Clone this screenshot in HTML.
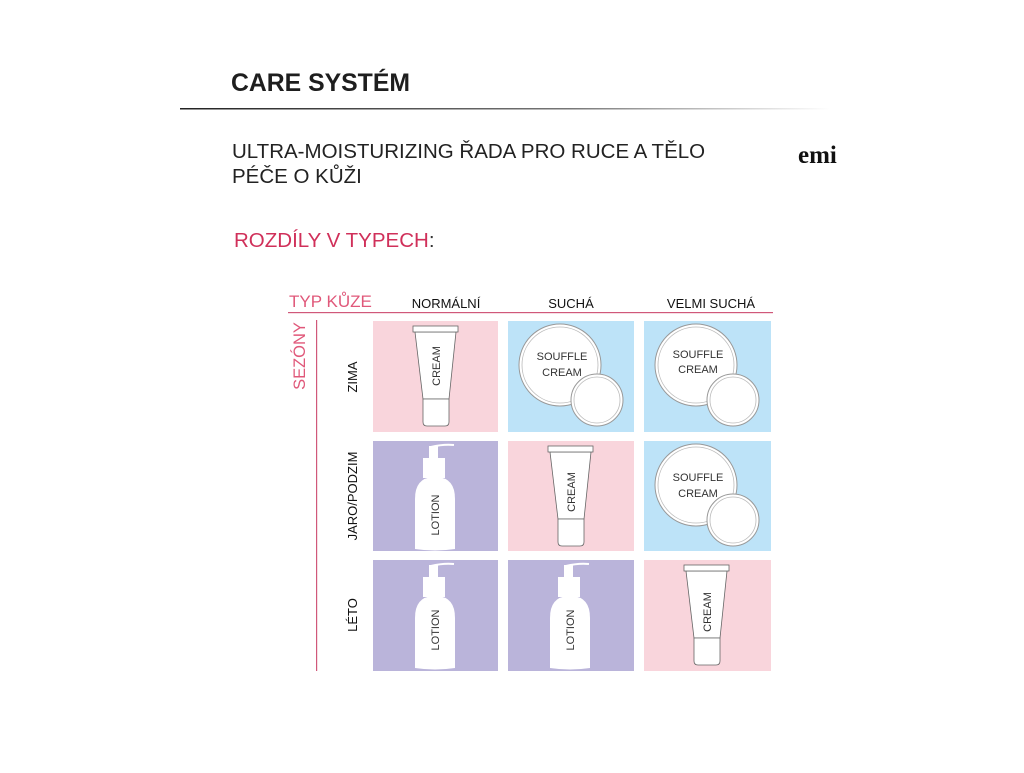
<!DOCTYPE html>
<html><head><meta charset="utf-8"><style>html,body{margin:0;padding:0;background:#fff}</style></head>
<body>
<svg width="1024" height="768" viewBox="0 0 1024 768" xmlns="http://www.w3.org/2000/svg" font-family="Liberation Sans, sans-serif">
<defs>
<linearGradient id="lg" x1="0" x2="1"><stop offset="0" stop-color="#222"/><stop offset="0.6" stop-color="#777"/><stop offset="1" stop-color="#fff"/></linearGradient>
<g id="tube">
<path d="M42 11 L83 11 L76 78 L50 78 Z" fill="#fff" stroke="#666" stroke-width="0.8"/>
<rect x="40" y="5" width="45" height="6" fill="#fff" stroke="#666" stroke-width="0.8"/>
<path d="M50 78 L76 78 L76 101 Q76 105 72 105 L54 105 Q50 105 50 101 Z" fill="#fff" stroke="#666" stroke-width="0.8"/>
</g>
<g id="jar">
<circle cx="52" cy="44" r="41" fill="#fff" stroke="#999" stroke-width="1"/>
<circle cx="52" cy="44" r="38" fill="none" stroke="#bbb" stroke-width="0.8"/>
<circle cx="89" cy="79" r="26" fill="#fff" stroke="#999" stroke-width="1"/>
<circle cx="89" cy="79" r="23" fill="none" stroke="#bbb" stroke-width="0.8"/>
</g>
<g id="lotion">
<path d="M58 6 Q70 3 81 4" fill="none" stroke="#fff" stroke-width="2"/>
<rect x="56" y="5" width="9" height="13" fill="#fff"/>
<rect x="50" y="17" width="22" height="20" fill="#fff"/>
<path d="M42 108 L42 58 Q42 37 60 36 L64 36 Q82 37 82 58 L82 108 Q62 111 42 108 Z" fill="#fff"/>
</g>
</defs>
<text x="231" y="91" font-size="25" font-weight="bold" fill="#1e1e1e" textLength="179" lengthAdjust="spacingAndGlyphs">CARE SYSTÉM</text>
<rect x="180" y="108" width="650" height="1.5" fill="url(#lg)"/>
<text x="232" y="158" font-size="20.5" fill="#222">ULTRA-MOISTURIZING ŘADA PRO RUCE A TĚLO</text>
<text x="232" y="183" font-size="20.5" fill="#222">PÉČE O KŮŽI</text>
<text x="798" y="163" font-size="25" font-weight="bold" font-family="Liberation Serif, serif" fill="#111">emi</text>
<text x="234" y="247" font-size="20.5" fill="#d0305a">ROZDÍLY V TYPECH<tspan fill="#333">:</tspan></text>
<text x="289" y="307" font-size="17" fill="#e0587a">TYP KŮZE</text>
<rect x="288" y="312" width="485" height="1.2" fill="#d0587a"/>
<text x="446" y="308" font-size="13" fill="#111" text-anchor="middle">NORMÁLNÍ</text>
<text x="571" y="308" font-size="13" fill="#111" text-anchor="middle">SUCHÁ</text>
<text x="711" y="308" font-size="13" fill="#111" text-anchor="middle">VELMI SUCHÁ</text>
<text transform="translate(305,356) rotate(-90)" font-size="16.5" fill="#e0587a" text-anchor="middle">SEZÓNY</text>
<rect x="316" y="320" width="1.2" height="351" fill="#d0587a"/>
<text transform="translate(357,377) rotate(-90)" font-size="13" fill="#111" text-anchor="middle">ZIMA</text>
<text transform="translate(357,496) rotate(-90)" font-size="13" fill="#111" text-anchor="middle">JARO/PODZIM</text>
<text transform="translate(357,615) rotate(-90)" font-size="13" fill="#111" text-anchor="middle">LÉTO</text>

<g transform="translate(373,321)"><rect width="125" height="111" fill="#f9d5dc"/><use href="#tube"/><text transform="translate(67,45) rotate(-90)" font-size="11" fill="#333" text-anchor="middle">CREAM</text></g>
<g transform="translate(508,321)"><rect width="126" height="111" fill="#bde3f8"/><use href="#jar"/><text x="54" y="39" font-size="11" fill="#333" text-anchor="middle">SOUFFLE</text><text x="54" y="55" font-size="11" fill="#333" text-anchor="middle">CREAM</text></g>
<g transform="translate(644,321)"><rect width="127" height="111" fill="#bde3f8"/><use href="#jar"/><text x="54" y="37" font-size="11" fill="#333" text-anchor="middle">SOUFFLE</text><text x="54" y="52" font-size="11" fill="#333" text-anchor="middle">CREAM</text></g>
<g transform="translate(373,441)"><rect width="125" height="110" fill="#bab4da"/><use href="#lotion"/><text transform="translate(66,74) rotate(-90)" font-size="11" fill="#333" text-anchor="middle">LOTION</text></g>
<g transform="translate(508,441)"><rect width="126" height="110" fill="#f9d5dc"/><use href="#tube"/><text transform="translate(67,51) rotate(-90)" font-size="11" fill="#333" text-anchor="middle">CREAM</text></g>
<g transform="translate(644,441)"><rect width="127" height="110" fill="#bde3f8"/><use href="#jar"/><text x="54" y="40" font-size="11" fill="#333" text-anchor="middle">SOUFFLE</text><text x="54" y="56" font-size="11" fill="#333" text-anchor="middle">CREAM</text></g>
<g transform="translate(373,560)"><rect width="125" height="111" fill="#bab4da"/><use href="#lotion"/><text transform="translate(66,70) rotate(-90)" font-size="11" fill="#333" text-anchor="middle">LOTION</text></g>
<g transform="translate(508,560)"><rect width="126" height="111" fill="#bab4da"/><use href="#lotion"/><text transform="translate(66,70) rotate(-90)" font-size="11" fill="#333" text-anchor="middle">LOTION</text></g>
<g transform="translate(644,560)"><rect width="127" height="111" fill="#f9d5dc"/><use href="#tube"/><text transform="translate(67,52) rotate(-90)" font-size="11" fill="#333" text-anchor="middle">CREAM</text></g>
</svg>
</body></html>
